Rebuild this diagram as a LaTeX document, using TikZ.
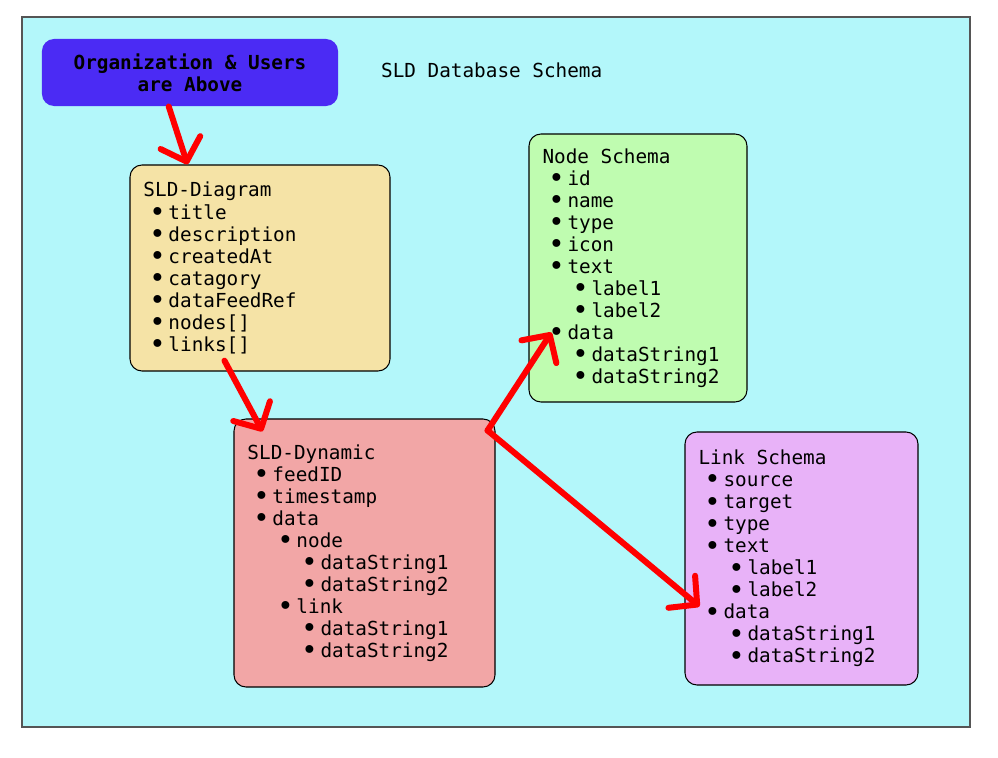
\documentclass[tikz,border=0pt]{standalone}
\usepackage{fontspec}
\newfontfamily\schemafont[WordSpace={1,0,0}]{DejaVu Sans Mono}
\usetikzlibrary{arrows.meta, calc}
\definecolor{cbg}{HTML}{B3F7FA}
\definecolor{corg}{HTML}{4B2BF4}
\definecolor{cdiag}{HTML}{F5E3A6}
\definecolor{cnode}{HTML}{BFFCB0}
\definecolor{cdyn}{HTML}{F2A6A6}
\definecolor{clink}{HTML}{E8B2F8}
\definecolor{cframe}{HTML}{555555}
% one bullet line, #1 = extra indent
\newcommand{\itm}[2]{\hspace*{\dimexpr0.255cm+#1\relax}\makebox[0.33cm][c]{\raisebox{-0.12em}{\scalebox{1.4}{•}}}\hspace{0.165cm}#2}
\tikzset{
  every picture/.style={font=\schemafont\fontsize{16.5}{18.8}\selectfont},
  box/.style={draw=black, fill=#1, line width=0.9pt, rounded corners=0.36cm, align=flush left, inner xsep=0.405cm, inner ysep=0pt},
  arrow/.style={draw=red, line width=0.18cm, line cap=round, -{Straight Barb[length=0.6cm, width=1.25cm, line cap=round, line join=round]}},
}
\begin{document}
\begin{tikzpicture}[x=0.03cm, y=-0.03cm]
  % page and schema frame (pixel grid, y downwards)
  \useasboundingbox (0,0) rectangle (998,758);
  \fill[white] (0,0) rectangle (998,758);
  \draw[cframe, fill=cbg, line width=1.2pt] (22,17) rectangle (970,727);
  % header
  \node[box=corg, draw=none, align=center, font=\schemafont\bfseries\fontsize{16.5}{18.8}\selectfont, minimum width=8.88cm, minimum height=2.01cm] (org) at (190,72.5) {Organization \& Users\\are Above};
  \node[anchor=west] (title) at (377,70) {SLD Database Schema};
  % schema boxes
  \node[box=cdiag, text width=6.99cm, minimum height=6.18cm] (diagram) at (260,268) {SLD-Diagram\\
    \itm{0cm}{title}\\ \itm{0cm}{description}\\ \itm{0cm}{createdAt}\\ \itm{0cm}{catagory}\\
    \itm{0cm}{dataFeedRef}\\ \itm{0cm}{nodes[]}\\ \itm{0cm}{links[]}};
  \node[box=cnode, text width=5.73cm, minimum height=8.04cm] (nodeschema) at (638,268) {Node Schema\\
    \itm{0cm}{id}\\ \itm{0cm}{name}\\ \itm{0cm}{type}\\ \itm{0cm}{icon}\\ \itm{0cm}{text}\\
    \itm{0.72cm}{label1}\\ \itm{0.72cm}{label2}\\ \itm{0cm}{data}\\
    \itm{0.72cm}{dataString1}\\ \itm{0.72cm}{dataString2}};
  \node[box=cdyn, text width=7.02cm, minimum height=8.04cm] (dynamic) at (364.5,553) {SLD-Dynamic\\
    \itm{0cm}{feedID}\\ \itm{0cm}{timestamp}\\ \itm{0cm}{data}\\
    \itm{0.72cm}{node}\\ \itm{1.44cm}{dataString1}\\ \itm{1.44cm}{dataString2}\\
    \itm{0.72cm}{link}\\ \itm{1.44cm}{dataString1}\\ \itm{1.44cm}{dataString2}};
  \node[box=clink, text width=6.18cm, minimum height=7.59cm] (linkschema) at (801.5,558.5) {Link Schema\\
    \itm{0cm}{source}\\ \itm{0cm}{target}\\ \itm{0cm}{type}\\ \itm{0cm}{text}\\
    \itm{0.72cm}{label1}\\ \itm{0.72cm}{label2}\\ \itm{0cm}{data}\\
    \itm{0.72cm}{dataString1}\\ \itm{0.72cm}{dataString2}\par\vspace*{0.36cm}};
  % arrow ends
  \coordinate (fork) at ($(dynamic.north east)+(-8,12)$);
  \coordinate (ndata) at ($(nodeschema.north west)+(23,199)$);
  \coordinate (ldata) at ($(linkschema.north west)+(15,175)$);
  % arrows
  \draw[arrow] (org.-122) -- (diagram.125);
  \draw[arrow, shorten <=-0.37cm, shorten >=-0.44cm] (diagram.-106) -- (dynamic.129);
  \draw[arrow] (fork) -- (ndata);
  \draw[arrow] (fork) -- (ldata);
\end{tikzpicture}
\end{document}
